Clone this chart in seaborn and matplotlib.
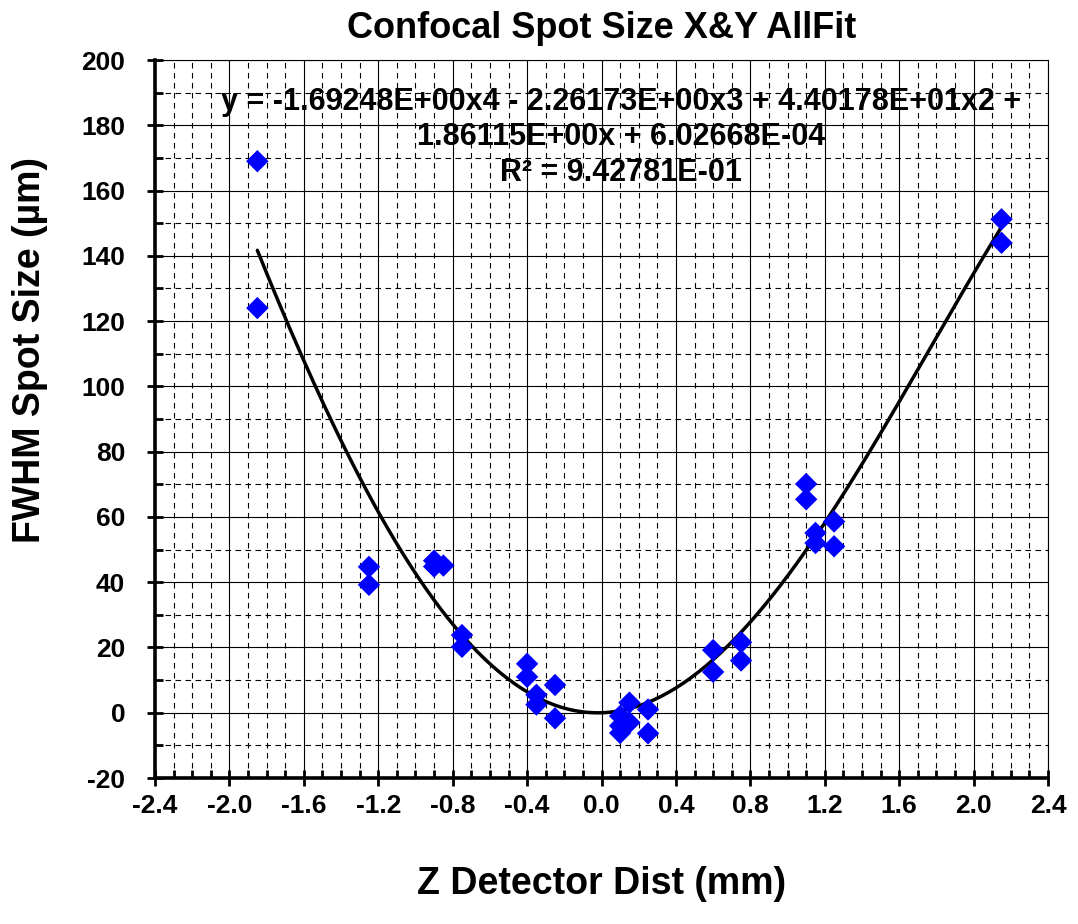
import numpy as np
import pandas as pd
import matplotlib
matplotlib.use("Agg")
import matplotlib.pyplot as plt
from matplotlib.ticker import MultipleLocator
import seaborn as sns

z_mm = [-1.85, -1.85, -1.25, -1.25, -0.9, -0.9, -0.85, -0.75, -0.75,
        -0.4, -0.4, -0.35, -0.35, -0.25, -0.25,
        0.1, 0.1, 0.1, 0.15, 0.15, 0.25, 0.25,
        0.6, 0.6, 0.75, 0.75, 1.1, 1.1, 1.15, 1.15, 1.25, 1.25, 2.15, 2.15]
fwhm_um = [169.0, 124.0, 44.7, 39.2, 46.6, 44.8, 45.1, 23.8, 20.2,
           15.0, 11.0, 5.5, 2.5, 8.5, -1.7,
           -1.0, -4.0, -6.2, 3.1, -3.0, 1.0, -6.3,
           19.2, 12.5, 21.6, 16.0, 70.1, 65.4, 55.1, 52.0, 58.6, 51.0, 151.2, 144.0]

# trendline coefficients as printed on the chart (x^4 .. x^0)
coef = [-1.69248, -2.26173, 44.0178, 1.86115, 6.02668e-4]
eq_text = ("y = -1.69248E+00x4 - 2.26173E+00x3 + 4.40178E+01x2 +\n"
           "1.86115E+00x + 6.02668E-04\n"
           "R\u00b2 = 9.42781E-01")

df = pd.DataFrame({"z": z_mm, "fwhm": fwhm_um})
zz = np.linspace(min(z_mm), max(z_mm), 200)
fit = pd.DataFrame({"z": zz, "fwhm": np.polyval(coef, zz)})

sns.set_style("ticks")
plt.rcParams["font.family"] = ["Liberation Sans", "DejaVu Sans"]
plt.rcParams["font.weight"] = "bold"
plt.rcParams["axes.unicode_minus"] = False
for k in ["text.color", "axes.labelcolor", "xtick.color", "ytick.color", "axes.edgecolor"]:
    plt.rcParams[k] = "black"

fig = plt.figure(figsize=(10.78, 9.24), dpi=100)
ax = fig.add_axes([0.1438, 0.158, 0.8284, 0.777])

sns.lineplot(data=fit, x="z", y="fwhm", color="black", linewidth=2.5, ax=ax, zorder=3)
sns.scatterplot(data=df, x="z", y="fwhm", marker="D", s=130, color="#0000FF",
                edgecolor="none", linewidth=0, ax=ax, zorder=4)

ax.set_xlim(-2.4, 2.4)
ax.set_ylim(-20, 200)
ax.xaxis.set_major_locator(MultipleLocator(0.4))
ax.xaxis.set_minor_locator(MultipleLocator(0.1))
ax.yaxis.set_major_locator(MultipleLocator(20))
ax.yaxis.set_minor_locator(MultipleLocator(10))
ax.set_xticks(ax.get_xticks())
ax.set_xticklabels([f"{v:.1f}".replace("-0.0", "0.0") for v in ax.get_xticks()])
ax.set_xlim(-2.4, 2.4)

ax.grid(which="major", color="black", linewidth=0.8)
ax.grid(which="minor", color="black", linewidth=0.8, linestyle=(0, (5, 4)))
ax.set_axisbelow(True)

for s in ["left", "bottom"]:
    ax.spines[s].set_linewidth(2.6)
for s in ["top", "right"]:
    ax.spines[s].set_linewidth(0.8)

ax.tick_params(which="major", direction="inout", length=11, width=2, labelsize=19)
ax.tick_params(which="minor", direction="in", length=6, width=2)
ax.tick_params(top=False, right=False, which="both")
ax.tick_params(axis="x", pad=6)
ax.tick_params(axis="y", pad=16)

ax.set_title("Confocal Spot Size X&Y AllFit", fontsize=26, fontweight="bold", pad=16)
ax.set_xlabel("Z Detector Dist (mm)", fontsize=27, fontweight="bold")
ax.set_ylabel("FWHM Spot Size (\u00b5m)", fontsize=27, fontweight="bold")
ax.xaxis.set_label_coords(0.5, -0.123)
ax.yaxis.set_label_coords(-0.12, 0.596)

ax.text(0.522, 0.963, eq_text, transform=ax.transAxes, ha="center", va="top",
        fontsize=22, fontweight="bold", linespacing=1.25, zorder=5)

fig.savefig("out.png", dpi=100)
